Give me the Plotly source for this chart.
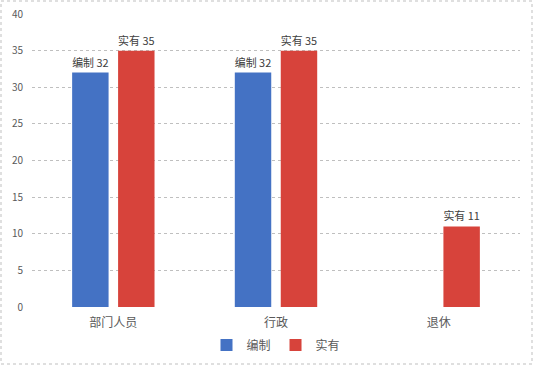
import plotly.graph_objects as go

categories = ["部门人员", "行政", "退休"]
bianzhi = [32, 32, None]
shiyou = [35, 35, 11]
series_names = ["编制", "实有"]
y_ticks = [0, 5, 10, 15, 20, 25, 30, 35, 40]

FONT = "Noto Sans CJK SC, Noto Sans, sans-serif"

fig = go.Figure()
fig.add_trace(go.Bar(
    name=series_names[0], x=categories, y=bianzhi,
    marker=dict(color="#4472C4", line=dict(width=0)),
    texttemplate=series_names[0] + " %{y}", textposition="outside",
    textfont=dict(size=11, color="#404040", family=FONT), cliponaxis=False,
))
fig.add_trace(go.Bar(
    name=series_names[1], x=categories, y=shiyou,
    marker=dict(color="#D7433B", line=dict(width=0)),
    texttemplate=series_names[1] + " %{y}", textposition="outside",
    textfont=dict(size=11, color="#404040", family=FONT), cliponaxis=False,
))

fig.update_layout(
    width=534, height=366,
    margin=dict(l=32, r=14, t=14, b=59, autoexpand=False),
    paper_bgcolor="white", plot_bgcolor="white",
    barmode="group", bargap=0.435, bargroupgap=0.207,
    font=dict(family=FONT, color="#595959"),
    showlegend=True,
    legend=dict(orientation="h", x=0.5, xanchor="center", y=-0.13, yanchor="middle",
                font=dict(size=12, color="#595959"), itemwidth=30,
                traceorder="normal"),
    xaxis=dict(showgrid=False, showline=False, ticks="", zeroline=False,
               automargin=False, ticklabelstandoff=7,
               tickfont=dict(size=12, color="#595959")),
    yaxis=dict(range=[0, 40], tickvals=y_ticks, showgrid=True,
               gridcolor="#BFBFBF", griddash="dot", gridwidth=1,
               zeroline=False, automargin=False,
               showline=False, ticks="", ticklabelstandoff=8,
               tickfont=dict(size=10, color="#595959")),
    shapes=[dict(type="rect", xref="paper", yref="paper",
                 x0=-31/488, x1=1+12/488, y0=-57/293, y1=1+13/293,
                 line=dict(color="#BFBFBF", width=1, dash="dot"))],
)
fig.write_html("out.html", config={"displayModeBar": False},
               post_script="document.body.style.margin='0px';")
